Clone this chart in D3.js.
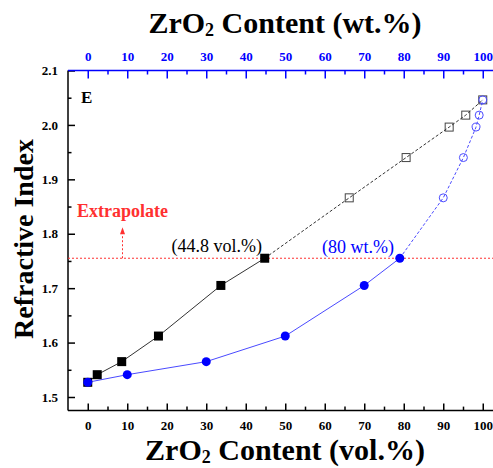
<!DOCTYPE html>
<html>
<head>
<meta charset="utf-8">
<script src="https://cdn.jsdelivr.net/npm/d3@7"></script>
<style>
  body { margin: 0; background: #fff; }
  svg { display: block; font-family: "Liberation Serif", "Times New Roman", serif; }
</style>
</head>
<body>
<script>
// measured points (solid markers)
let volMeasured = [0, 2.4, 8.6, 17.9, 33.7, 44.8]
let wtMeasured = [0, 10, 30, 50, 70, 79]
let riMeasured = [1.527, 1.541, 1.565, 1.612, 1.705, 1.755]

// extrapolated points (open markers)
let volExtra = [66.2, 80.6, 91.5, 95.7, 100]
let wtExtra = [90, 95.1, 98.3, 99.1, 100]
let riExtra = [1.866, 1.940, 1.996, 2.018, 2.046]

let xTicks = [0, 10, 20, 30, 40, 50, 60, 70, 80, 90, 100]
let yTicks = [1.5, 1.6, 1.7, 1.8, 1.9, 2.0, 2.1]
let cutoff = 1.755

let width = 493
let height = 468
let serif = "Liberation Serif, Times New Roman, serif"

let svg = d3.select("body").append("svg")
    .attr("width", width)
    .attr("height", height)

let x = d3.scaleLinear().domain([-5, 105]).range([68, 502.5])
let y = d3.scaleLinear().domain([1.475, 2.1]).range([410.6, 70.5])

let blue = "#0000ff"

// axes (ticks point inward)
function styleAxis(g, color) {
    g.attr("font-family", serif)
    g.selectAll("g").attr("font-family", serif)
    g.selectAll(".domain").remove()
    g.selectAll("line").attr("stroke", color).attr("stroke-width", 1.5)
    g.selectAll("text")
        .attr("fill", color)
        .attr("font-size", 13)
        .attr("font-weight", "bold")
        .style("font-family", serif)
}

let xAxisBottom = svg.append("g").attr("transform", `translate(0,${y.range()[0]})`)
xAxisBottom.call(d3.axisBottom(x).tickValues(xTicks).tickSize(-7).tickPadding(10))
xAxisBottom.append("g").call(d3.axisBottom(x).tickValues(d3.range(5, 101, 10)).tickSize(-4).tickFormat(""))
styleAxis(xAxisBottom, "#000")

let xAxisTop = svg.append("g").attr("transform", `translate(0,${y.range()[1]})`)
xAxisTop.call(d3.axisTop(x).tickValues(xTicks).tickSize(-8).tickPadding(10))
xAxisTop.append("g").call(d3.axisTop(x).tickValues(d3.range(5, 101, 10)).tickSize(-4).tickFormat(""))
styleAxis(xAxisTop, blue)

let yAxisLeft = svg.append("g").attr("transform", `translate(${x.range()[0]},0)`)
yAxisLeft.call(d3.axisLeft(y).tickValues(yTicks).tickSize(-7).tickPadding(10).tickFormat(d3.format(".1f")))
yAxisLeft.append("g").call(d3.axisLeft(y).tickValues(d3.range(1.55, 2.1, 0.1)).tickSize(-3.5).tickFormat(""))
styleAxis(yAxisLeft, "#000")

// frame lines
svg.append("line")
    .attr("x1", x.range()[0]).attr("x2", x.range()[0])
    .attr("y1", y.range()[1]).attr("y2", y.range()[0])
    .attr("stroke", "#000").attr("stroke-width", 1.5)
svg.append("line")
    .attr("x1", x.range()[0]).attr("x2", x.range()[1])
    .attr("y1", y.range()[0]).attr("y2", y.range()[0])
    .attr("stroke", "#000").attr("stroke-width", 1.5)
svg.append("line")
    .attr("x1", x.range()[0]).attr("x2", x.range()[1])
    .attr("y1", y.range()[1]).attr("y2", y.range()[1])
    .attr("stroke", blue).attr("stroke-width", 1.5)

// red extrapolation guide
let red = "#ff3030"
svg.append("line")
    .attr("x1", x.range()[0]).attr("x2", x.range()[1])
    .attr("y1", y(cutoff)).attr("y2", y(cutoff))
    .attr("stroke", red).attr("stroke-width", 1).attr("stroke-dasharray", "2,2")

let arrowX = x(8.8)
svg.append("line")
    .attr("x1", arrowX).attr("x2", arrowX)
    .attr("y1", y(cutoff)).attr("y2", y(cutoff) - 24)
    .attr("stroke", red).attr("stroke-width", 1).attr("stroke-dasharray", "2,2")
svg.append("path")
    .attr("d", `M${arrowX - 2.5},${y(cutoff) - 24} L${arrowX + 2.5},${y(cutoff) - 24} L${arrowX},${y(cutoff) - 31} Z`)
    .attr("fill", red)

svg.append("text")
    .attr("x", arrowX).attr("y", 217)
    .attr("text-anchor", "middle")
    .attr("fill", red)
    .attr("font-size", 18).attr("font-weight", "bold")
    .text("Extrapolate")

// lines
let line = d3.line().x(d => x(d[0])).y(d => y(d[1]))
let volPts = d3.zip(volMeasured, riMeasured)
let wtPts = d3.zip(wtMeasured, riMeasured)
let volExtraPts = [volPts[volPts.length - 1]].concat(d3.zip(volExtra, riExtra))
let wtExtraPts = [wtPts[wtPts.length - 1]].concat(d3.zip(wtExtra, riExtra))

svg.append("path").datum(volPts).attr("d", line)
    .attr("fill", "none").attr("stroke", "#333").attr("stroke-width", 1)
svg.append("path").datum(wtPts).attr("d", line)
    .attr("fill", "none").attr("stroke", "#4a4aff").attr("stroke-width", 1)

// open markers
svg.append("g").selectAll("rect")
    .data(d3.zip(volExtra, riExtra))
    .enter()
    .append("rect")
        .attr("x", d => x(d[0]) - 4).attr("y", d => y(d[1]) - 4)
        .attr("width", 8).attr("height", 8)
        .attr("fill", "none").attr("stroke", "#444").attr("stroke-width", 1)
svg.append("g").selectAll("circle")
    .data(d3.zip(wtExtra, riExtra))
    .enter()
    .append("circle")
        .attr("cx", d => x(d[0])).attr("cy", d => y(d[1]))
        .attr("r", 4)
        .attr("fill", "none").attr("stroke", "#4a4aff").attr("stroke-width", 1)

svg.append("path").datum(volExtraPts).attr("d", line)
    .attr("fill", "none").attr("stroke", "#333").attr("stroke-width", 1).attr("stroke-dasharray", "3,2")
svg.append("path").datum(wtExtraPts).attr("d", line)
    .attr("fill", "none").attr("stroke", "#4a4aff").attr("stroke-width", 1).attr("stroke-dasharray", "3,2")

// solid markers
svg.append("g").selectAll("rect")
    .data(volPts)
    .enter()
    .append("rect")
        .attr("x", d => x(d[0]) - 4.5).attr("y", d => y(d[1]) - 4.5)
        .attr("width", 9).attr("height", 9)
        .attr("fill", "#000")
svg.append("g").selectAll("circle")
    .data(wtPts)
    .enter()
    .append("circle")
        .attr("cx", d => x(d[0])).attr("cy", d => y(d[1]))
        .attr("r", 4.5)
        .attr("fill", blue)

// annotations
svg.append("text")
    .attr("x", 262).attr("y", 252)
    .attr("text-anchor", "end")
    .attr("font-size", 18)
    .text("(44.8 vol.%)")
svg.append("text")
    .attr("x", 394).attr("y", 253)
    .attr("text-anchor", "end")
    .attr("font-size", 18)
    .attr("fill", blue)
    .text("(80 wt.%)")
svg.append("text")
    .attr("x", 81).attr("y", 103)
    .attr("font-size", 17).attr("font-weight", "bold")
    .text("E")

// axis titles
function title(sel, tail) {
    sel.attr("font-size", 30).attr("font-weight", "bold").attr("text-anchor", "middle")
    sel.append("tspan").text("ZrO")
    sel.append("tspan").attr("font-size", 18).attr("dy", 3).text("2")
    sel.append("tspan").attr("dy", -3).text(tail)
}
title(svg.append("text").attr("x", 285).attr("y", 33), " Content (wt.%)")
title(svg.append("text").attr("x", 285).attr("y", 460), " Content (vol.%)")

svg.append("text")
    .attr("transform", "translate(33,239) rotate(-90)")
    .attr("text-anchor", "middle")
    .attr("font-size", 28).attr("font-weight", "bold")
    .text("Refractive Index")
</script>
</body>
</html>
